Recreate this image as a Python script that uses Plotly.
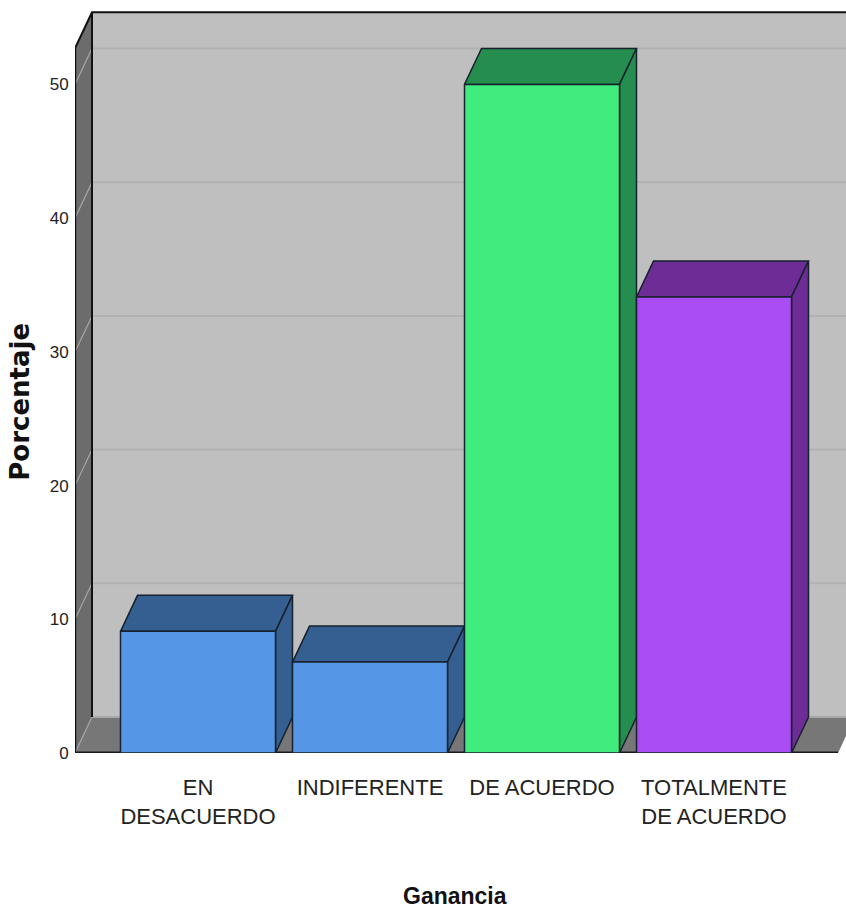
import plotly.graph_objects as go

categories = ["EN<br>DESACUERDO", "INDIFERENTE", "DE ACUERDO", "TOTALMENTE<br>DE ACUERDO"]
values = [9.1, 6.8, 50.0, 34.1]
front_colors = ["#5596E6", "#5596E6", "#41EC7E", "#A94CF2"]
depth_colors = ["#355E91", "#355E91", "#258E4E", "#6D2C96"]
y_ticks = [0, 10, 20, 30, 40, 50]
x_title = "Ganancia"
y_title = "Porcentaje"

W, H = 846, 910
PLOT_L, PLOT_B = 75, 753.5
PX_PER_CAT = 172.0
PX_PER_UNIT = 13.38
CENTER0 = 198.0

DX = 17 / PX_PER_CAT
DY = 36 / PX_PER_UNIT
BAR_W = 155 / PX_PER_CAT
x_min = (PLOT_L - CENTER0) / PX_PER_CAT
x_max = (W - CENTER0) / PX_PER_CAT
x_end = (838 - CENTER0) / PX_PER_CAT
y_top = 52.7
y_max = PLOT_B / PX_PER_UNIT

xs = list(range(len(categories)))
fig = go.Figure()


def poly(px, py, fill, line="#000000", lw=1.0, z=0):
    fig.add_trace(go.Scatter(x=px, y=py, mode="lines", fill="toself", fillcolor=fill,
                             line=dict(color=line, width=lw), hoverinfo="skip",
                             showlegend=False, zorder=z))


def seg(px, py, color, lw, z=1):
    fig.add_trace(go.Scatter(x=px, y=py, mode="lines", line=dict(color=color, width=lw),
                             hoverinfo="skip", showlegend=False, zorder=z))


# walls
poly([x_min + DX, x_end + DX, x_end + DX, x_min + DX, x_min + DX],
     [DY, DY, y_top + DY, y_top + DY, DY], "#BFBFBF", "#BFBFBF", 0)
poly([x_min, x_min + DX, x_min + DX, x_min, x_min],
     [0, DY, y_top + DY, y_top, 0], "#6C6C6C", "#6C6C6C", 0)
poly([x_min, x_end, x_end + DX, x_min + DX, x_min],
     [0, 0, DY, DY, 0], "#777777", "#777777", 0)

# gridlines
for v in y_ticks[1:]:
    seg([x_min + DX, x_end + DX], [v + DY, v + DY], "#B2B2B2", 2)
    seg([x_min, x_min + DX], [v, v + DY], "#A6A6A6", 1.2)
seg([x_min + DX, x_end + DX], [DY, DY], "#A8A8A8", 2)
seg([x_min, x_min + DX], [0, DY], "#A6A6A6", 1.2)

# wall outline
seg([x_min + DX, x_min + DX], [DY, y_top + DY], "#111111", 2)
seg([x_min, x_min], [0, y_top], "#111111", 2.5)
seg([x_min, x_min + DX, x_end + DX], [y_top, y_top + DY, y_top + DY], "#111111", 2)
seg([x_min, x_end], [0, 0], "#1A1A1A", 3)

# depth faces
for x, v, c in zip(xs, values, depth_colors):
    l, r = x - BAR_W / 2, x + BAR_W / 2
    poly([l, r, r + DX, l + DX, l], [v, v, v + DY, v + DY, v], c, "#16222E", 1.5, 2)
    poly([r, r + DX, r + DX, r, r], [0, DY, v + DY, v, 0], c, "#16222E", 1.5, 2)

# front faces
fig.add_trace(go.Bar(x=xs, y=values, width=BAR_W, marker=dict(color=front_colors,
              line=dict(color="#16222E", width=1.5)), showlegend=False, zorder=3,
              hovertemplate="%{y}<extra></extra>"))

fig.update_layout(
    width=W, height=H, autosize=False,
    margin=dict(l=PLOT_L, r=0, t=0, b=H - PLOT_B, autoexpand=False),
    paper_bgcolor="white", plot_bgcolor="white", showlegend=False,
    xaxis=dict(range=[x_min, x_max], tickmode="array", tickvals=xs, ticktext=categories,
               showgrid=False, zeroline=False, showline=False, ticks="outside", ticklen=15,
               tickcolor="rgba(0,0,0,0)", automargin=False, tickangle=0,
               tickfont=dict(family="Liberation Sans", size=22, color="#222222")),
    yaxis=dict(range=[0, y_max], tickmode="array", tickvals=y_ticks, showgrid=False,
               zeroline=False, showline=False, ticks="outside", ticklen=2,
               tickcolor="rgba(0,0,0,0)", automargin=False,
               tickfont=dict(family="Liberation Sans", size=17, color="#222222")),
    annotations=[
        dict(text="<b>" + x_title + "</b>", xref="paper", yref="paper",
             x=(455 - PLOT_L) / (W - PLOT_L), y=-(897 - PLOT_B) / PLOT_B,
             xanchor="center", yanchor="middle", showarrow=False,
             font=dict(family="Liberation Sans", size=23, color="#111111")),
        dict(text="<b>" + y_title + "</b>", xref="paper", yref="paper",
             x=-(PLOT_L - 20) / (W - PLOT_L), y=(PLOT_B - 402) / PLOT_B,
             xanchor="center", yanchor="middle", textangle=-90, showarrow=False,
             font=dict(family="DejaVu Sans", size=26, color="#111111")),
    ],
)
fig.write_html("out.html", config={"displayModeBar": False},
               post_script="document.body.style.margin='0';document.documentElement.style.overflow='hidden';")
